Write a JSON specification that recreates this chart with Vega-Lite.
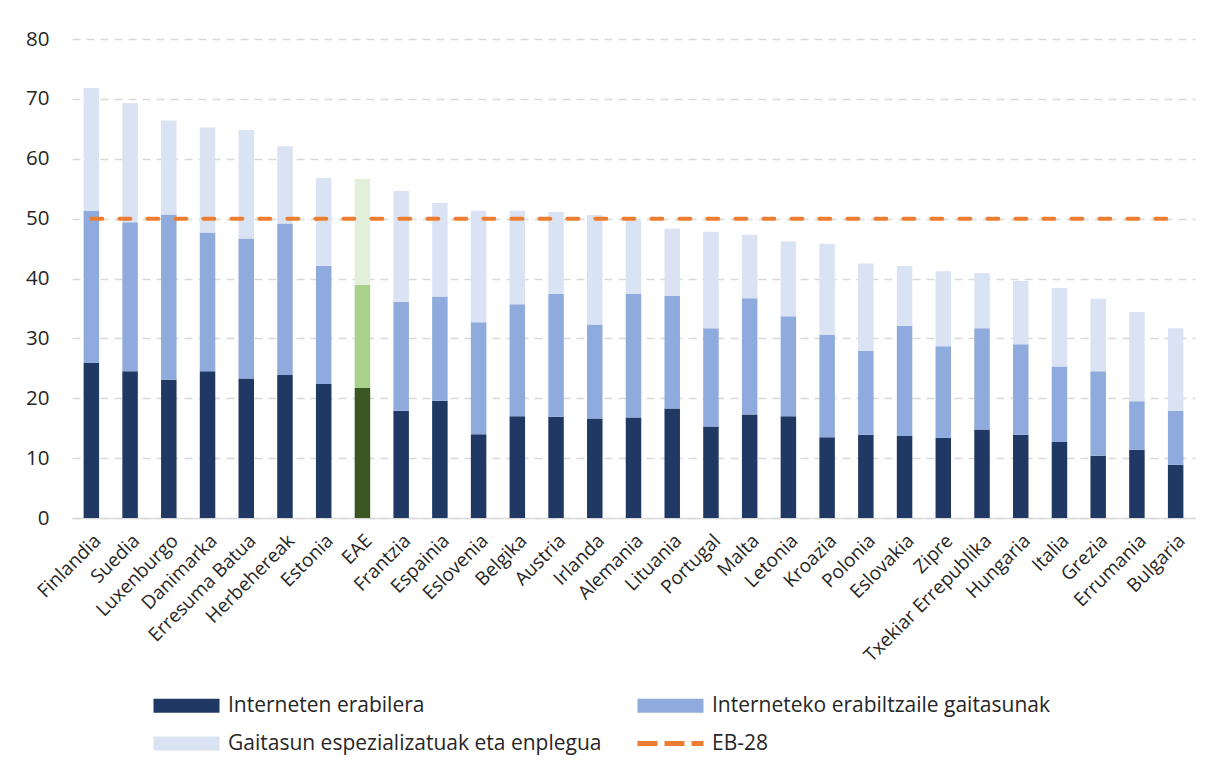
{
  "$schema": "https://vega.github.io/schema/vega-lite/v6.json",
  "width": 1123,
  "height": 479,
  "autosize": {"type": "none"},
  "padding": {"left": 72, "top": 39, "right": 16, "bottom": 262},
  "background": "white",
  "config": {
    "view": {"stroke": null},
    "font": "Open Sans",
    "axis": {"labelColor": "#262626", "labelFont": "Open Sans"},
    "legend": {"labelFont": "Open Sans"}
  },
  "data": {
    "values": [
      {"herrialdea": "Finlandia", "Interneten erabilera": 25.9, "Interneteko erabiltzaile gaitasunak": 25.4, "Gaitasun espezializatuak eta enplegua": 20.5, "EB-28": 50},
      {"herrialdea": "Suedia", "Interneten erabilera": 24.5, "Interneteko erabiltzaile gaitasunak": 24.9, "Gaitasun espezializatuak eta enplegua": 19.9, "EB-28": 50},
      {"herrialdea": "Luxenburgo", "Interneten erabilera": 23.1, "Interneteko erabiltzaile gaitasunak": 27.6, "Gaitasun espezializatuak eta enplegua": 15.7, "EB-28": 50},
      {"herrialdea": "Danimarka", "Interneten erabilera": 24.5, "Interneteko erabiltzaile gaitasunak": 23.2, "Gaitasun espezializatuak eta enplegua": 17.5, "EB-28": 50},
      {"herrialdea": "Erresuma Batua", "Interneten erabilera": 23.3, "Interneteko erabiltzaile gaitasunak": 23.4, "Gaitasun espezializatuak eta enplegua": 18.1, "EB-28": 50},
      {"herrialdea": "Herbehereak", "Interneten erabilera": 23.9, "Interneteko erabiltzaile gaitasunak": 25.3, "Gaitasun espezializatuak eta enplegua": 12.9, "EB-28": 50},
      {"herrialdea": "Estonia", "Interneten erabilera": 22.4, "Interneteko erabiltzaile gaitasunak": 19.7, "Gaitasun espezializatuak eta enplegua": 14.7, "EB-28": 50},
      {"herrialdea": "EAE", "Interneten erabilera": 21.7, "Interneteko erabiltzaile gaitasunak": 17.2, "Gaitasun espezializatuak eta enplegua": 17.7, "EB-28": 50},
      {"herrialdea": "Frantzia", "Interneten erabilera": 17.9, "Interneteko erabiltzaile gaitasunak": 18.2, "Gaitasun espezializatuak eta enplegua": 18.5, "EB-28": 50},
      {"herrialdea": "Espainia", "Interneten erabilera": 19.6, "Interneteko erabiltzaile gaitasunak": 17.4, "Gaitasun espezializatuak eta enplegua": 15.6, "EB-28": 50},
      {"herrialdea": "Eslovenia", "Interneten erabilera": 14.0, "Interneteko erabiltzaile gaitasunak": 18.7, "Gaitasun espezializatuak eta enplegua": 18.6, "EB-28": 50},
      {"herrialdea": "Belgika", "Interneten erabilera": 17.0, "Interneteko erabiltzaile gaitasunak": 18.7, "Gaitasun espezializatuak eta enplegua": 15.6, "EB-28": 50},
      {"herrialdea": "Austria", "Interneten erabilera": 16.9, "Interneteko erabiltzaile gaitasunak": 20.5, "Gaitasun espezializatuak eta enplegua": 13.7, "EB-28": 50},
      {"herrialdea": "Irlanda", "Interneten erabilera": 16.6, "Interneteko erabiltzaile gaitasunak": 15.7, "Gaitasun espezializatuak eta enplegua": 18.3, "EB-28": 50},
      {"herrialdea": "Alemania", "Interneten erabilera": 16.8, "Interneteko erabiltzaile gaitasunak": 20.6, "Gaitasun espezializatuak eta enplegua": 12.3, "EB-28": 50},
      {"herrialdea": "Lituania", "Interneten erabilera": 18.3, "Interneteko erabiltzaile gaitasunak": 18.8, "Gaitasun espezializatuak eta enplegua": 11.2, "EB-28": 50},
      {"herrialdea": "Portugal", "Interneten erabilera": 15.3, "Interneteko erabiltzaile gaitasunak": 16.4, "Gaitasun espezializatuak eta enplegua": 16.1, "EB-28": 50},
      {"herrialdea": "Malta", "Interneten erabilera": 17.3, "Interneteko erabiltzaile gaitasunak": 19.4, "Gaitasun espezializatuak eta enplegua": 10.6, "EB-28": 50},
      {"herrialdea": "Letonia", "Interneten erabilera": 17.0, "Interneteko erabiltzaile gaitasunak": 16.7, "Gaitasun espezializatuak eta enplegua": 12.5, "EB-28": 50},
      {"herrialdea": "Kroazia", "Interneten erabilera": 13.5, "Interneteko erabiltzaile gaitasunak": 17.1, "Gaitasun espezializatuak eta enplegua": 15.2, "EB-28": 50},
      {"herrialdea": "Polonia", "Interneten erabilera": 13.9, "Interneteko erabiltzaile gaitasunak": 14.0, "Gaitasun espezializatuak eta enplegua": 14.6, "EB-28": 50},
      {"herrialdea": "Eslovakia", "Interneten erabilera": 13.7, "Interneteko erabiltzaile gaitasunak": 18.4, "Gaitasun espezializatuak eta enplegua": 10.0, "EB-28": 50},
      {"herrialdea": "Zipre", "Interneten erabilera": 13.4, "Interneteko erabiltzaile gaitasunak": 15.3, "Gaitasun espezializatuak eta enplegua": 12.5, "EB-28": 50},
      {"herrialdea": "Txekiar Errepublika", "Interneten erabilera": 14.8, "Interneteko erabiltzaile gaitasunak": 16.9, "Gaitasun espezializatuak eta enplegua": 9.2, "EB-28": 50},
      {"herrialdea": "Hungaria", "Interneten erabilera": 13.9, "Interneteko erabiltzaile gaitasunak": 15.1, "Gaitasun espezializatuak eta enplegua": 10.6, "EB-28": 50},
      {"herrialdea": "Italia", "Interneten erabilera": 12.7, "Interneteko erabiltzaile gaitasunak": 12.6, "Gaitasun espezializatuak eta enplegua": 13.1, "EB-28": 50},
      {"herrialdea": "Grezia", "Interneten erabilera": 10.4, "Interneteko erabiltzaile gaitasunak": 14.1, "Gaitasun espezializatuak eta enplegua": 12.1, "EB-28": 50},
      {"herrialdea": "Errumania", "Interneten erabilera": 11.4, "Interneteko erabiltzaile gaitasunak": 8.1, "Gaitasun espezializatuak eta enplegua": 14.9, "EB-28": 50},
      {"herrialdea": "Bulgaria", "Interneten erabilera": 8.9, "Interneteko erabiltzaile gaitasunak": 9.0, "Gaitasun espezializatuak eta enplegua": 13.8, "EB-28": 50}
    ]
  },
  "layer": [
    {
      "transform": [
        {"fold": ["Interneten erabilera", "Interneteko erabiltzaile gaitasunak", "Gaitasun espezializatuak eta enplegua"], "as": ["serie", "balioa"]},
        {"calculate": "datum.herrialdea === 'EAE' ? 'EAE ' + datum.serie : datum.serie", "as": "kolorea"},
        {"calculate": "indexof(['Interneten erabilera', 'Interneteko erabiltzaile gaitasunak', 'Gaitasun espezializatuak eta enplegua'], datum.serie)", "as": "ordena"}
      ],
      "mark": {"type": "bar"},
      "encoding": {
        "x": {
          "field": "herrialdea",
          "type": "nominal",
          "sort": null,
          "scale": {"paddingInner": 0.6, "paddingOuter": 0.3},
          "axis": {
            "title": null,
            "labelAngle": -45,
            "labelFontSize": 19,
            "labelPadding": 13,
            "ticks": false,
            "domain": true,
            "domainColor": "#D9D9D9",
            "domainWidth": 1.5,
            "grid": false,
            "labelOverlap": false
          }
        },
        "y": {
          "field": "balioa",
          "type": "quantitative",
          "stack": "zero",
          "scale": {"domain": [0, 80], "nice": false},
          "axis": {
            "title": null,
            "values": [0, 10, 20, 30, 40, 50, 60, 70, 80],
            "domain": false,
            "ticks": false,
            "labelFontSize": 20.5,
            "labelPadding": 23,
            "grid": true,
            "gridColor": "#D9D9D9",
            "gridDash": [8, 6],
            "gridWidth": 1.5
          }
        },
        "order": {"field": "ordena", "type": "quantitative", "sort": "ascending"},
        "color": {
          "field": "kolorea",
          "type": "nominal",
          "scale": {
            "domain": ["Interneten erabilera", "Interneteko erabiltzaile gaitasunak", "Gaitasun espezializatuak eta enplegua", "EB-28", "EAE Interneten erabilera", "EAE Interneteko erabiltzaile gaitasunak", "EAE Gaitasun espezializatuak eta enplegua"],
            "range": ["#203864", "#8FAADC", "#DAE3F3", "#ED7D31", "#3A5723", "#A9D18E", "#E2EFDA"]
          },
          "legend": {
            "title": null,
            "values": ["Interneten erabilera", "Interneteko erabiltzaile gaitasunak", "Gaitasun espezializatuak eta enplegua", "EB-28"],
            "orient": "none",
            "direction": "horizontal",
            "legendX": 78,
            "legendY": 656,
            "columns": 2,
            "columnPadding": 32,
            "rowPadding": 16,
            "padding": 0,
            "labelFontSize": 21,
            "labelColor": "#262626",
            "labelOffset": 57,
            "labelLimit": 600,
            "symbolSize": 196,
            "symbolStrokeWidth": 0,
            "encode": {
              "symbols": {
                "update": {
                  "shape": [
                    {"test": "datum.value === 'EB-28'", "value": "M-1,-0.36H1.857V0.36H-1Z M2.857,-0.36H5.714V0.36H2.857Z M6.714,-0.36H8.43V0.36H6.714Z"},
                    {"value": "M-1,-1H8.43V1H-1Z"}
                  ],
                  "strokeWidth": {"value": 0}
                }
              }
            }
          }
        }
      }
    },
    {
      "mark": {"type": "line", "color": "#ED7D31", "strokeWidth": 4, "strokeDash": [11, 17], "strokeCap": "round"},
      "encoding": {
        "x": {"field": "herrialdea", "type": "nominal", "sort": null},
        "y": {"field": "EB-28", "type": "quantitative"}
      }
    }
  ]
}
